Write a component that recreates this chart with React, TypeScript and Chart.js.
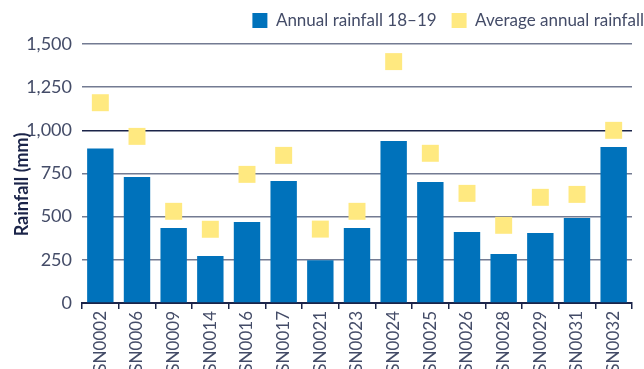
import React, { useEffect, useRef } from "react";
import { Chart, registerables } from "chart.js";

Chart.register(...registerables);

const stations = [
  "SN0002", "SN0006", "SN0009", "SN0014", "SN0016", "SN0017", "SN0021", "SN0023",
  "SN0024", "SN0025", "SN0026", "SN0028", "SN0029", "SN0031", "SN0032",
];

// Rainfall recorded over the 2018–19 year (mm)
const annualRainfall = [895, 730, 434, 272, 469, 706, 247, 434, 938, 701, 411, 284, 405, 492, 903];

// Long-term average annual rainfall (mm)
const averageRainfall = [1160, 965, 531, 427, 745, 855, 428, 531, 1398, 867, 635, 450, 612, 629, 1000];

const yTicks = { min: 0, max: 1500, step: 250 };
const yTitle = "Rainfall (mm)";

const FONT = "Lato, 'Open Sans', sans-serif";
const NAVY = "#1b2449";
const TEXT = "#444c68";
const GRID = "#737b92";
const BLUE = "#0072bb";
const YELLOW = "#ffe980";

const LEGEND_HEIGHT = 44;
const LEGEND_PAD = 15;

// Draws the rotated y-axis title a little below the centre of the plot.
const yTitlePlugin = {
  id: "yTitle",
  afterDraw(chart: any) {
    const { ctx, chartArea } = chart;
    ctx.save();
    ctx.translate(22, (chartArea.top + chartArea.bottom) / 2 + 11);
    ctx.rotate(-Math.PI / 2);
    ctx.textAlign = "center";
    ctx.textBaseline = "middle";
    ctx.fillStyle = NAVY;
    ctx.font = `bold 18px ${FONT}`;
    ctx.fillText(yTitle, 0, 0);
    ctx.restore();
  },
};

// Fixes the legend band height and lets the legend run up to the canvas edge.
const legendLayoutPlugin = {
  id: "legendLayout",
  beforeLayout(chart: any) {
    const lg = chart.legend;
    if (lg && !lg.__fixedFit) {
      const fit = lg.fit.bind(lg);
      lg.fit = () => {
        fit();
        lg.height = LEGEND_HEIGHT;
      };
      lg.__fixedFit = true;
    }
  },
  afterLayout(chart: any) {
    const lg = chart.legend;
    if (lg) {
      lg.left += LEGEND_PAD;
      lg.right += LEGEND_PAD;
      lg.top -= 3;
      lg.bottom -= 3;
    }
  },
};

export default function App() {
  const canvasRef = useRef<HTMLCanvasElement | null>(null);

  useEffect(() => {
    document.body.style.margin = "0";
    const canvas = canvasRef.current;
    if (!canvas) return;

    const chart = new Chart(canvas, {
      type: "bar",
      data: {
        labels: stations,
        datasets: [
          {
            type: "bar",
            label: "Annual rainfall 18–19",
            data: annualRainfall,
            backgroundColor: BLUE,
            borderWidth: 0,
            categoryPercentage: 0.8,
            barPercentage: 0.9,
            order: 2,
          },
          {
            type: "line",
            label: "Average annual rainfall",
            data: averageRainfall,
            showLine: false,
            pointStyle: "rect",
            pointRadius: 12,
            pointHoverRadius: 12,
            pointBorderWidth: 0,
            backgroundColor: YELLOW,
            borderColor: YELLOW,
            borderWidth: 0,
            order: 1,
          },
        ],
      },
      options: {
        animation: false,
        responsive: true,
        maintainAspectRatio: false,
        layout: { padding: 0 },
        plugins: {
          tooltip: { enabled: false },
          legend: {
            position: "top",
            align: "end",
            labels: {
              boxWidth: 15,
              boxHeight: 15,
              padding: LEGEND_PAD,
              color: TEXT,
              font: { family: FONT, size: 17 },
              sort: (a: any, b: any) => a.datasetIndex - b.datasetIndex,
            },
          },
        },
        scales: {
          x: {
            afterFit(scale: any) {
              scale.height = 66;
              scale.paddingLeft = 0;
              scale.paddingRight = 0;
            },
            grid: {
              display: true,
              drawOnChartArea: false,
              drawTicks: true,
              tickLength: 6,
              offset: true,
              color: NAVY,
              lineWidth: 1.5,
            },
            border: { display: true, color: NAVY, width: 2 },
            ticks: {
              minRotation: 90,
              maxRotation: 90,
              padding: 2,
              color: TEXT,
              font: { family: FONT, size: 17 },
            },
          },
          y: {
            min: yTicks.min,
            max: yTicks.max,
            afterFit(scale: any) {
              scale.width = 82;
              scale.paddingTop = 0;
              scale.paddingBottom = 0;
            },
            ticks: {
              stepSize: yTicks.step,
              padding: 10,
              color: TEXT,
              font: { family: FONT, size: 18 },
            },
            grid: {
              drawTicks: false,
              lineWidth: 1.5,
              color: (ctx: any) => (ctx.tick && ctx.tick.value === 1000 ? NAVY : GRID),
            },
            border: { display: false },
          },
        },
      },
      plugins: [yTitlePlugin, legendLayoutPlugin],
    });

    return () => chart.destroy();
  }, []);

  return (
    <div style={{ width: 644, height: 369, position: "relative" }}>
      <canvas ref={canvasRef} />
    </div>
  );
}
